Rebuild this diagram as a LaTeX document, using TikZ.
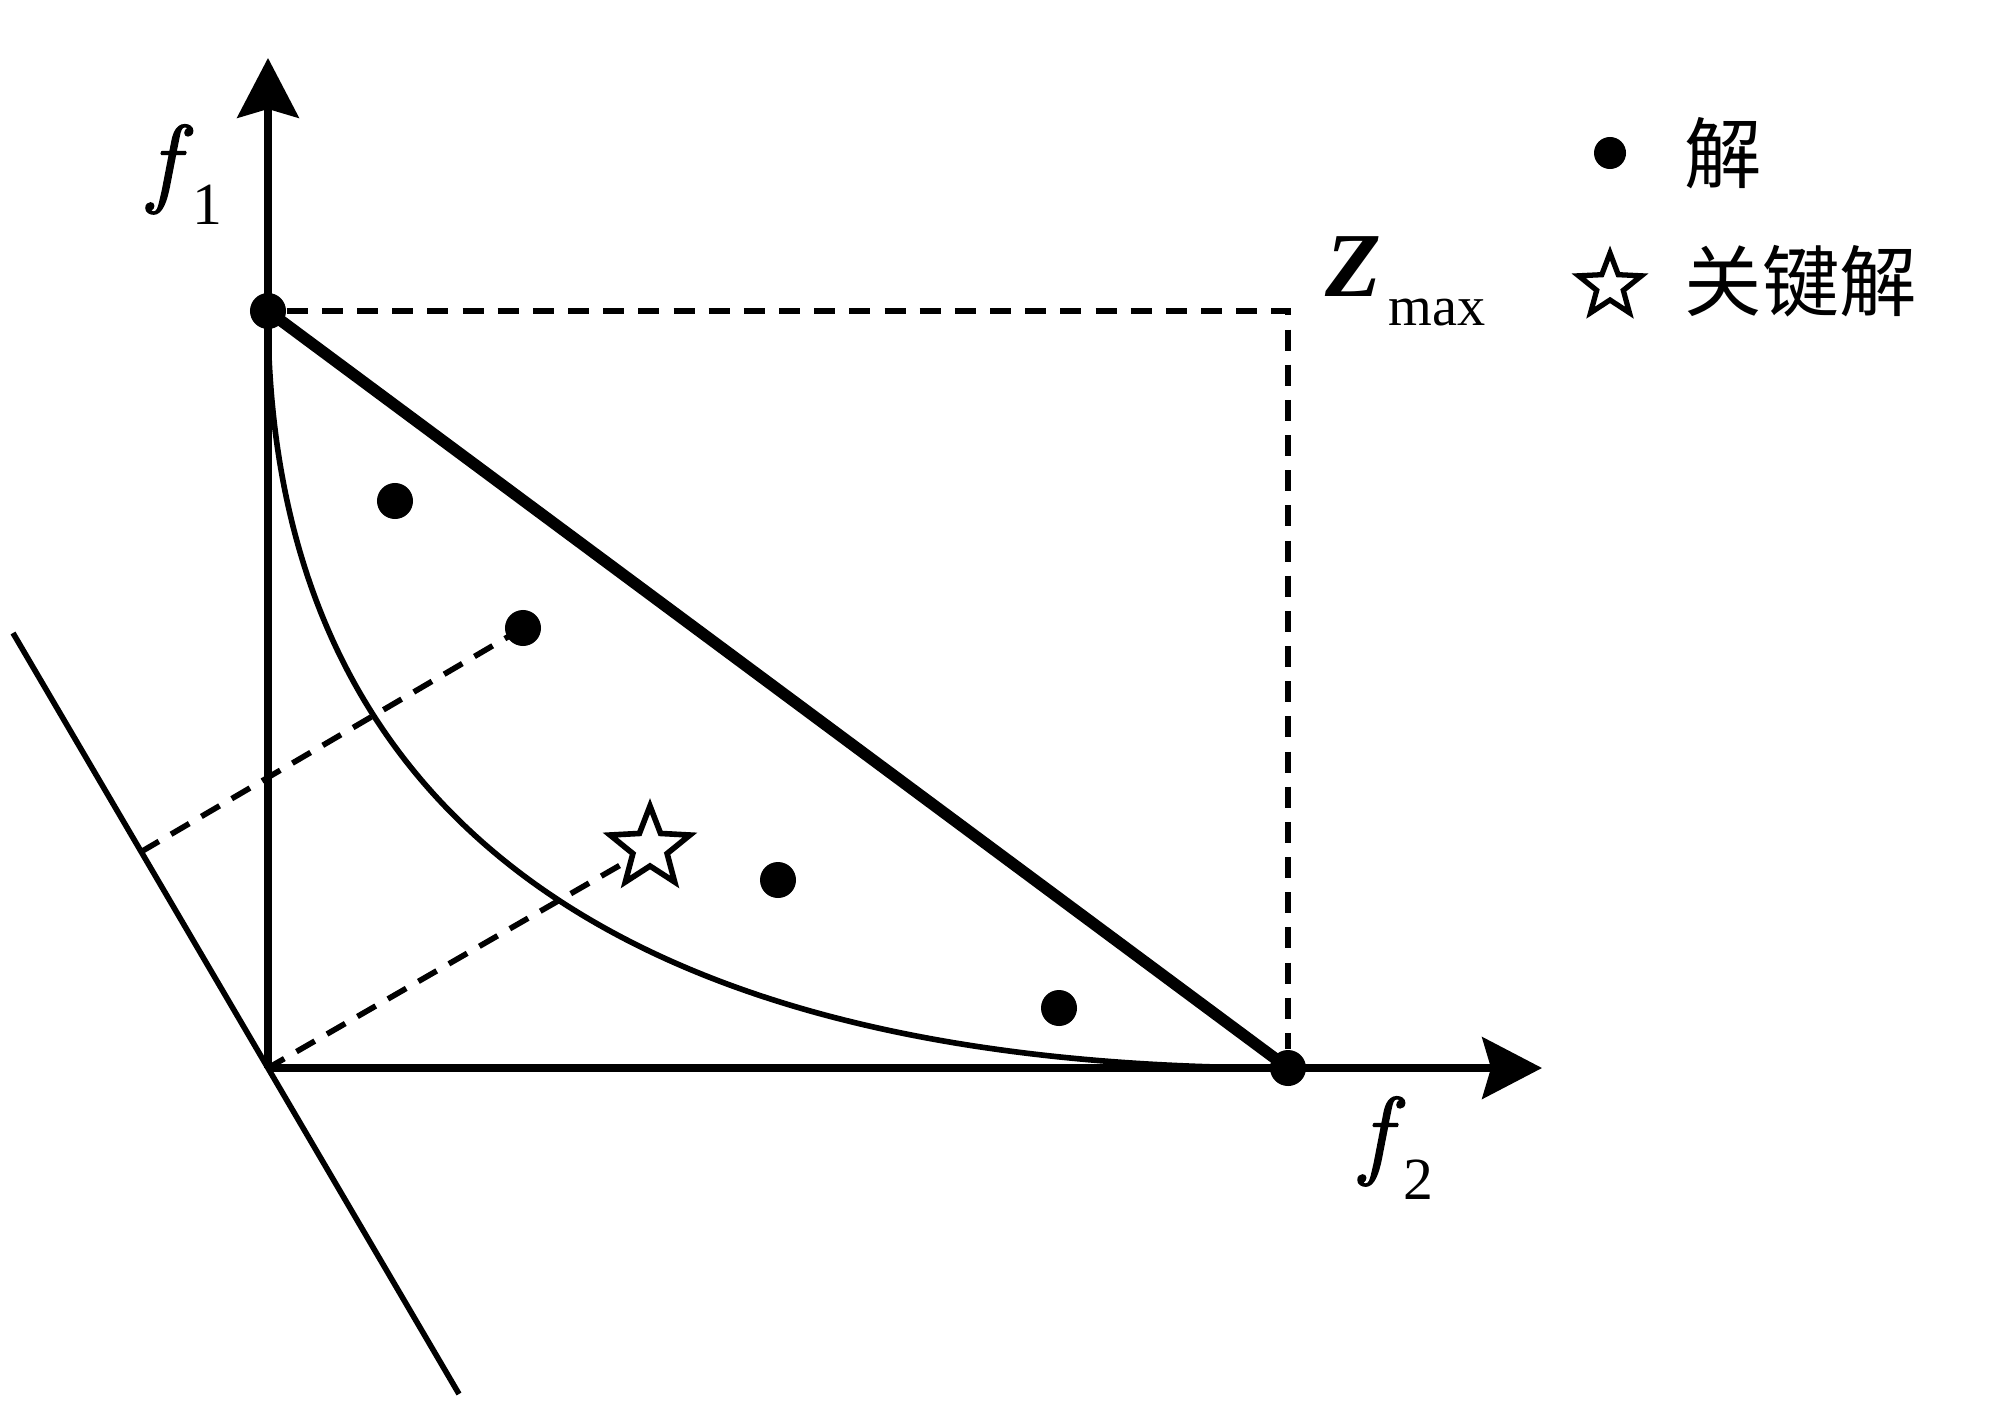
\documentclass[tikz,border=0pt]{standalone}
\usepackage{fontspec}
\setmainfont{Liberation Serif}
\newfontfamily\lmfont[FakeBold=1.6]{Latin Modern Roman}
\newfontfamily\cjk{Noto Sans CJK SC}
\usetikzlibrary{arrows.meta,calc}
\begin{document}
\begin{tikzpicture}[x=0.01cm,y=-0.01cm,
  axis/.style={line width=2pt,-{Stealth[length=17pt,width=17.5pt,inset=2.5pt]}},
  thin line/.style={line width=1.6pt},
  dash line/.style={line width=1.6pt,dash pattern=on 6pt off 4pt},
  sol/.style={circle,fill=black,inner sep=0pt,minimum size=0.36cm},
  starline/.style={draw=black,fill=white,line width=1.6pt,line join=miter},
  lbl/.style={inner sep=0pt,font=\fontsize{28pt}{30pt}\selectfont},
  cjklbl/.style={inner sep=0pt,anchor=west,font=\cjk\fontsize{22pt}{24pt}\selectfont}]
\useasboundingbox (0,0) rectangle (2000,1418);
% key points
\coordinate (O) at (268,1068);
\coordinate (ytip) at (268,58);
\coordinate (xtip) at (1542,1068);
\coordinate (Zc) at (1288,311);
\coordinate (L1) at (13,633);
\coordinate (L2) at (459,1394);
\node[sol] (A) at (268,311) {};
\node[sol] (B) at (1288,1068) {};
% dashed Zmax box
\draw[dash line] (A) -- (Zc) -- (B);
% axes
\draw[axis] (O) -- (ytip);
\draw[axis] (O) -- (xtip);
% ideal line A-B
\draw[line width=3.3pt] (A.center) -- (B.center);
% Pareto front curve
\draw[thin line] (A.center) .. controls (268,791) and (588,1068) .. (B.center);
% reference line
\draw[thin line] (L1) -- (L2);
% solutions
\coordinate (d2c) at (523,628);
\coordinate (F) at ($(L1)!(d2c)!(L2)$);
\coordinate (sc) at (650,848);
\draw[dash line] (d2c) -- (F);
\draw[dash line] (sc) -- (O);
\node[sol] (d1) at (395,501) {};
\node[sol] (d2) at (d2c) {};
\node[sol] (d3) at (778,880) {};
\node[sol] (d4) at (1059,1008) {};
% key solution star
\draw[starline,shift={(sc)}] (-90:42) -- (-54:18) -- (-18:42) -- (18:18) -- (54:42) -- (90:18) -- (126:42) -- (162:18) -- (198:42) -- (234:18) -- cycle;
% axis labels
\node[lbl,anchor=base west] (f1) at (148,194) {\lmfont\itshape f};
\node[lbl,anchor=base west,font=\fontsize{17pt}{18pt}\selectfont] (f1s) at (192,224) {1};
\node[lbl,anchor=base west] (f2) at (1360,1166) {\lmfont\itshape f};
\node[lbl,anchor=base west,font=\fontsize{17pt}{18pt}\selectfont] (f2s) at (1403,1199) {2};
\node[lbl,anchor=base west,font=\fontsize{26pt}{28pt}\selectfont] (Z) at (1325,296) {\bfseries\itshape Z};
\node[lbl,anchor=base west,font=\fontsize{16pt}{18pt}\selectfont] (Zs) at (1388,325) {max};
% legend
\node[sol,minimum size=0.32cm] (lg1) at (1610,153) {};
\node[cjklbl] (lt1) at (1684,153) {解};
\draw[starline,line width=1.5pt,shift={(1610,286)}] (-90:33) -- (-54:14) -- (-18:33) -- (18:14) -- (54:33) -- (90:14) -- (126:33) -- (162:14) -- (198:33) -- (234:14) -- cycle;
\coordinate (lg2) at (1610,286);
\node[cjklbl] (lt2) at (1684,281) {关键解};
\end{tikzpicture}
\end{document}
